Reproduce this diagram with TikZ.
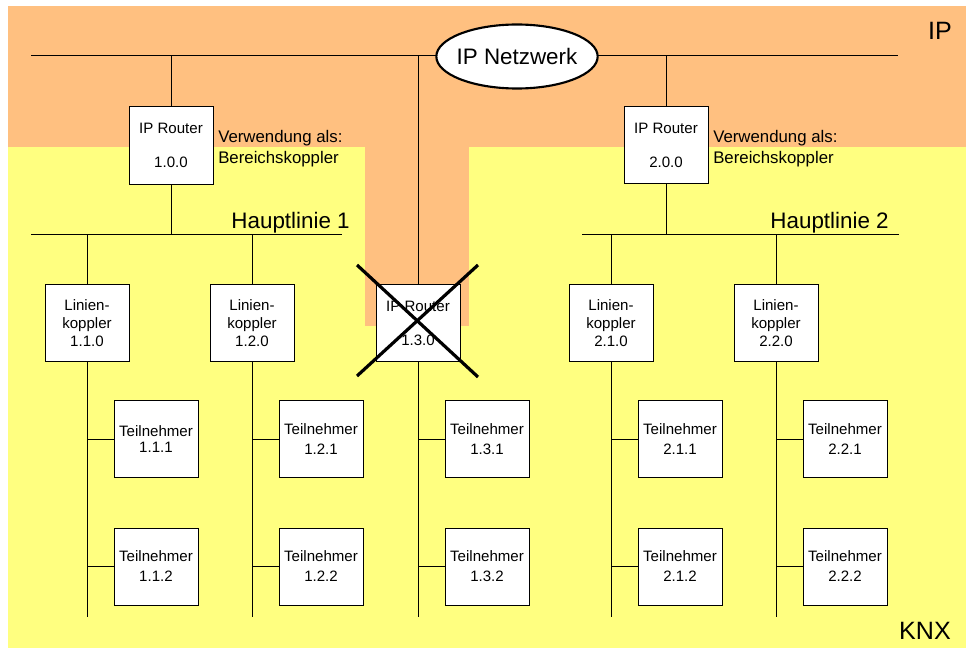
\documentclass[tikz,border=0pt]{standalone}
\usepackage{fontspec}
\setmainfont{Liberation Sans}
\usetikzlibrary{shapes.geometric}
\definecolor{iporange}{RGB}{255,192,128}
\definecolor{knxyellow}{RGB}{255,255,128}
\begin{document}
\begin{tikzpicture}[x=0.75pt,y=-0.75pt,
  bus/.style={line width=0.75pt, draw=black},
  box/.style={draw=black, fill=white, line width=0.75pt, minimum width=63pt, minimum height=57.75pt, inner sep=0pt, align=center, font=\fontsize{11.3}{15}\selectfont},
  routerbox/.style={box, font=\fontsize{11.3}{25.5}\selectfont},
  lkbox/.style={box, font=\fontsize{11.3}{13.5}\selectfont},
  bigtext/.style={font=\fontsize{16.8}{20}\selectfont, inner sep=0pt},
  zonetext/.style={font=\fontsize{18.8}{22}\selectfont, inner sep=0pt},
  usetext/.style={font=\fontsize{12.6}{15.75}\selectfont, inner sep=0pt, align=left},
  netcloud/.style={ellipse, draw=black, fill=white, line width=1.6pt, minimum height=48pt, inner xsep=-2.5pt, inner ysep=0pt, font=\fontsize{16.8}{20}\selectfont},
  crossline/.style={line width=2.4pt, draw=black}
]
\useasboundingbox (0,0) rectangle (966,649);
\fill[white] (0,0) rectangle (966,649);
% zones
\fill[knxyellow] (8,147) rectangle (966,648);
\fill[iporange] (8,6) rectangle (966,147);
\fill[iporange] (365,146) rectangle (469,326);

% zone labels
\node[zonetext, anchor=base east] (lblip) at (952,40) {IP};
\node[zonetext, anchor=base east] (lblknx) at (951,639) {KNX};

% IP bus
\coordinate (ipL) at (31,56);
\coordinate (ipR) at (898,56);
\draw[bus] (ipL) -- (ipR);

% Hauptlinien
\coordinate (h1L) at (31,234);
\coordinate (h1R) at (342,234);
\coordinate (h2L) at (582,234);
\coordinate (h2R) at (899,234);
\draw[bus] (h1L) -- (h1R);
\draw[bus] (h2L) -- (h2R);
\node[bigtext, anchor=base east] (hl1) at (350,228) {Hauptlinie 1};
\node[bigtext, anchor=base east] (hl2) at (889,228) {Hauptlinie 2};

% line ends
\coordinate (e11) at (87,617);
\coordinate (e12) at (252,617);
\coordinate (e13) at (418,617);
\coordinate (e21) at (611,617);
\coordinate (e22) at (776,617);
\coordinate (ctop) at (418,56);

% routers
\node[routerbox] (r10) at (171,145.5) {IP Router\\1.0.0};
\node[routerbox] (r20) at (666,145) {IP Router\\2.0.0};
\node[routerbox] (r13) at (418,323) {IP Router\\1.3.0};

\node[usetext, anchor=base west] (use1) at (218,163) {Verwendung als:\\Bereichskoppler};
\node[usetext, anchor=base west] (use2) at (713,163) {Verwendung als:\\Bereichskoppler};

% line couplers
\node[lkbox] (lk11) at (87,323) {Linien-\\koppler\\1.1.0};
\node[lkbox] (lk12) at (252,323) {Linien-\\koppler\\1.2.0};
\node[lkbox] (lk21) at (611,323) {Linien-\\koppler\\2.1.0};
\node[lkbox] (lk22) at (776,323) {Linien-\\koppler\\2.2.0};

% participants
\node[box, font=\fontsize{11.3}{12.5}\selectfont] (t111) at (156,439) {Teilnehmer\\1.1.1};
\node[box] (t112) at (156,566.5) {Teilnehmer\\1.1.2};
\node[box] (t121) at (321,439) {Teilnehmer\\1.2.1};
\node[box] (t122) at (321,566.5) {Teilnehmer\\1.2.2};
\node[box] (t131) at (487,439) {Teilnehmer\\1.3.1};
\node[box] (t132) at (487,566.5) {Teilnehmer\\1.3.2};
\node[box] (t211) at (680,439) {Teilnehmer\\2.1.1};
\node[box] (t212) at (680,566.5) {Teilnehmer\\2.1.2};
\node[box] (t221) at (845,439) {Teilnehmer\\2.2.1};
\node[box] (t222) at (845,566.5) {Teilnehmer\\2.2.2};

% IP network cloud
\node[netcloud] (net) at (517,56.5) {IP Netzwerk};

% connectors
\draw[bus] (r10.north) -- (r10.north |- ipL);
\draw[bus] (r20.north) -- (r20.north |- ipL);
\draw[bus] (r10.south) -- (r10.south |- h1L);
\draw[bus] (r20.south) -- (r20.south |- h2L);
\draw[bus] (ctop) -- (r13.north);
\draw[bus] (r13.south) -- (e13);

\draw[bus] (lk11.north |- h1L) -- (lk11.north);
\draw[bus] (lk12.north |- h1L) -- (lk12.north);
\draw[bus] (lk21.north |- h2L) -- (lk21.north);
\draw[bus] (lk22.north |- h2L) -- (lk22.north);
\draw[bus] (lk11.south) -- (e11);
\draw[bus] (lk12.south) -- (e12);
\draw[bus] (lk21.south) -- (e21);
\draw[bus] (lk22.south) -- (e22);

\foreach \t/\e in {t111/e11,t112/e11,t121/e12,t122/e12,t131/e13,t132/e13,t211/e21,t212/e21,t221/e22,t222/e22}{
  \draw[bus] (\t.west) -- (\t.west -| \e);
}

% cross over the removed router
\coordinate (xa) at (357,265);
\coordinate (xb) at (478,377);
\coordinate (xc) at (478,265);
\coordinate (xd) at (357,376);
\draw[crossline] (xa) -- (xb);
\draw[crossline] (xc) -- (xd);
\end{tikzpicture}
\end{document}
